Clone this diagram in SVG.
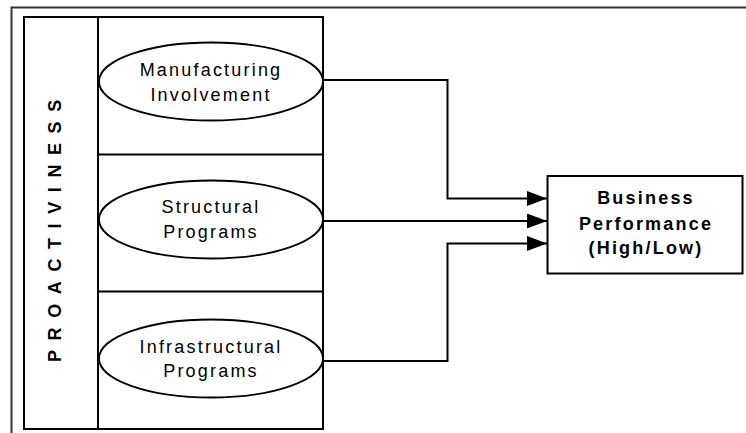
<svg xmlns="http://www.w3.org/2000/svg" width="746" height="433" viewBox="0 0 746 433">
<style>
.ln{fill:none;stroke:#000;stroke-width:2}
.el{fill:#fff;stroke:#000;stroke-width:1.8}
.t{font-family:"Liberation Sans",Arial,sans-serif;font-size:18px;letter-spacing:2.2px;text-anchor:middle;fill:#000}
.b{font-family:"Liberation Sans",Arial,sans-serif;font-size:18px;font-weight:bold;letter-spacing:2.2px;text-anchor:middle;fill:#000}
</style>
<defs>
<marker id="arr" viewBox="0 0 20 15" refX="20" refY="7.5" markerWidth="20" markerHeight="15" markerUnits="userSpaceOnUse" orient="auto">
<path d="M0,0 L20,7.5 L0,15 Z" fill="#000"/>
</marker>
</defs>
<rect width="746" height="433" fill="#fff"/>
<g id="frame">
<path d="M11.5,433 V7.5 H746" fill="none" stroke="#333" stroke-width="2"/>
</g>
<g id="proactiveness">
<rect class="ln" x="24" y="17" width="299" height="412"/>
<line class="ln" x1="98" y1="17" x2="98" y2="429"/>
<line class="ln" x1="98" y1="154.5" x2="323" y2="154.5"/>
<line class="ln" x1="98" y1="291.5" x2="323" y2="291.5"/>
<text transform="translate(61,362) rotate(-90)" style="font-family:'Liberation Sans',Arial,sans-serif;font-size:18px;font-weight:bold;letter-spacing:9.6px;fill:#000">PROACTIVINESS</text>
</g>
<g id="manufacturing">
<ellipse class="el" cx="211" cy="81.5" rx="112" ry="39"/>
<text class="t" x="211" y="75.5">Manufacturing</text>
<text class="t" x="211" y="100.5">Involvement</text>
</g>
<g id="structural">
<ellipse class="el" cx="211" cy="219.5" rx="112" ry="39"/>
<text class="t" x="211" y="212.5">Structural</text>
<text class="t" x="211" y="237.5">Programs</text>
</g>
<g id="infrastructural">
<ellipse class="el" cx="211" cy="358.5" rx="112" ry="39"/>
<text class="t" x="211" y="352.5">Infrastructural</text>
<text class="t" x="211" y="377">Programs</text>
</g>
<g id="connectors">
<path class="ln" d="M323,80 H447.5 V198.5 H547" marker-end="url(#arr)"/>
<path class="ln" d="M323,221 H547" marker-end="url(#arr)"/>
<path class="ln" d="M323,361 H447.5 V243.5 H547" marker-end="url(#arr)"/>
</g>
<g id="business">
<rect class="ln" x="547.5" y="176" width="195" height="97.5" fill="#fff"/>
<text class="b" x="646" y="203.5">Business</text>
<text class="b" x="646" y="229.5">Performance</text>
<text class="b" x="646" y="254">(High/Low)</text>
</g>
</svg>
